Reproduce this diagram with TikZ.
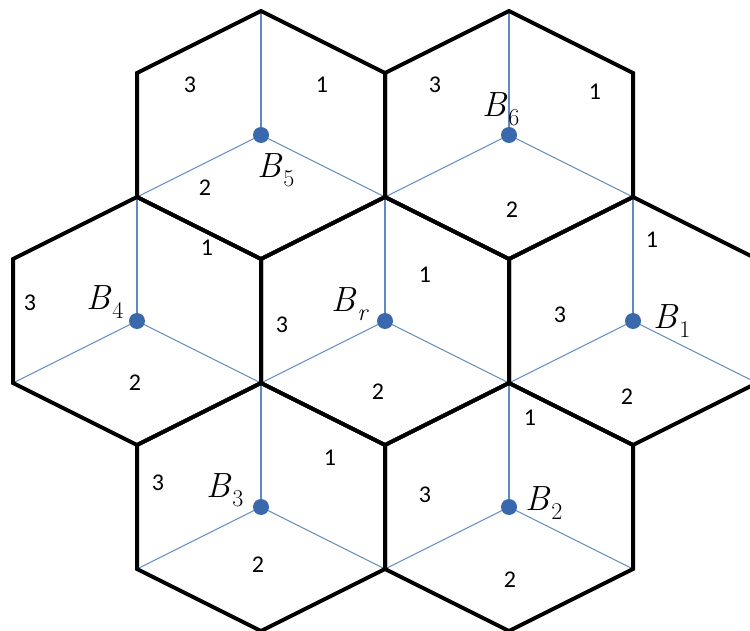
\documentclass[tikz,border=0pt]{standalone}
\usepackage{fontspec}
\newfontfamily\numfont{Carlito}
\newcommand\sitelabel[1]{\textit{B}\kern1pt\raisebox{-9pt}{\fontsize{24}{24}\selectfont #1}}
\definecolor{spoke}{RGB}{95,138,190}
\definecolor{dotblue}{RGB}{58,104,172}
\tikzset{
  hexline/.style={line width=4pt, black, line join=miter},
  spokeline/.style={line width=1.1pt, spoke},
  site/.style={circle, fill=dotblue, inner sep=0pt, minimum size=16pt},
  sector/.style={font=\numfont\fontsize{24}{24}\selectfont, inner sep=0pt},
  bslabel/.style={font=\fontsize{35}{35}\selectfont, inner sep=0pt, anchor=base west},
}
\begin{document}
\begin{tikzpicture}[x=1pt,y=-1pt]
\useasboundingbox (0,0) rectangle (750,631);
\foreach \n/\x/\y in {r/385/321, 1/633/321, 2/509/507, 3/261/507, 4/137/321, 5/261/135, 6/509/135} {
  \coordinate (c\n) at (\x,\y);
  \coordinate (t\n) at (\x,\y-124);
  \coordinate (ur\n) at (\x+124,\y-62);
  \coordinate (lr\n) at (\x+124,\y+62);
  \coordinate (b\n) at (\x,\y+124);
  \coordinate (ll\n) at (\x-124,\y+62);
  \coordinate (ul\n) at (\x-124,\y-62);
}
% spokes
\foreach \n in {r,1,2,3,4,5,6} {
  \draw[spokeline] (c\n) -- (t\n);
  \draw[spokeline] (c\n) -- (ll\n);
  \draw[spokeline] (c\n) -- (lr\n);
}
% hexagon outlines
\foreach \n in {r,1,2,3,4,5,6} {
  \draw[hexline] (t\n) -- (ur\n) -- (lr\n) -- (b\n) -- (ll\n) -- (ul\n) -- cycle;
}
% sites
\foreach \n in {r,1,2,3,4,5,6} {
  \node[site] (B\n) at (c\n) {};
}
% sector numbers
\foreach \k/\x/\y/\t in {
  a5/190/85/3, b5/322/85/1, c5/205/188/2,
  a6/435/85/3, b6/595/92/1, c6/512/210/2,
  a4/30/303/3, b4/207/248/1, c4/135/383/2,
  ar/282/325/3, br/425/275/1, cr/378/392/2,
  a1/560/315/3, b1/652/240/1, c1/627/397/2,
  a3/158/483/3, b3/330/458/1, c3/258/565/2,
  a2/425/495/3, b2/530/418/1, c2/510/580/2} {
  \node[sector] (s\k) at (\x,\y) {\t};
}
% site labels
\node[bslabel] (L5) at (257,178) {\sitelabel{5}};
\node[bslabel] (L6) at (482,117) {\sitelabel{6}};
\node[bslabel] (L4) at (86,309) {\sitelabel{4}};
\node[bslabel] (Lr) at (331,312) {\sitelabel{\textit{r}}};
\node[bslabel] (L1) at (653,328) {\sitelabel{1}};
\node[bslabel] (L3) at (206,497) {\sitelabel{3}};
\node[bslabel] (L2) at (525,510) {\sitelabel{2}};
\end{tikzpicture}
\end{document}
